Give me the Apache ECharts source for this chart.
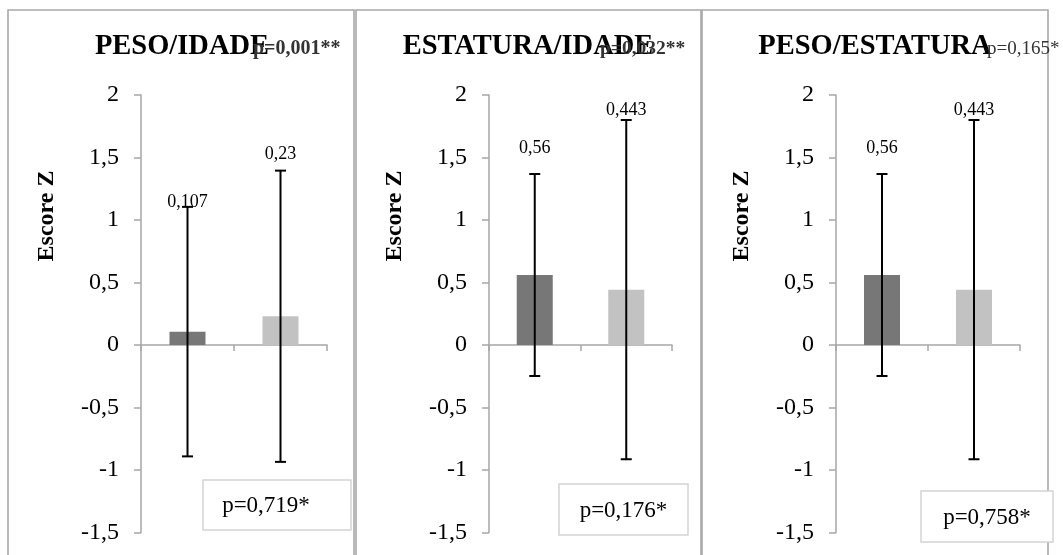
<!DOCTYPE html>
<html>
<head>
<meta charset="utf-8">
<script src="https://cdn.jsdelivr.net/npm/echarts/dist/echarts.min.js"></script>
<style>
html,body{margin:0;padding:0;background:#fff;}
#chart{width:1063px;height:555px;}
</style>
</head>
<body>
<div id="chart"></div>
<script>
// ---- data ----
const categories = ['Grupo 1', 'Grupo 2'];
const panelTitles = ['PESO/IDADE', 'ESTATURA/IDADE', 'PESO/ESTATURA'];
const panelTopP = ['p=0,001**', 'p=0,032**', 'p=0,165*'];
const panelBoxP = ['p=0,719*', 'p=0,176*', 'p=0,758*'];
const meansPesoIdade = [0.107, 0.23];
const meansEstaturaIdade = [0.56, 0.443];
const meansPesoEstatura = [0.56, 0.443];
const sdPesoIdade = [0.998, 1.165];
const sdEstaturaIdade = [0.808, 1.357];
const sdPesoEstatura = [0.808, 1.357];
const yTickMin = -1.5, yTickMax = 2, yTickStep = 0.5;
const yAxisName = 'Escore Z';

// ---- layout / style (not data) ----
const means = [meansPesoIdade, meansEstaturaIdade, meansPesoEstatura];
const sds = [sdPesoIdade, sdEstaturaIdade, sdPesoEstatura];
const gridLeft = [141, 489, 836];
const gridWidth = [186, 183, 184];
const gridTop = 95, gridHeight = 437.5;
const panelX = [8, 356, 702];
const panelRight = [354, 701, 1048];
const titleCx = [182, 528, 875];
const topPX = [253, 600, 987];
const topPSize = [20, 19.5, 19];
const topPWeight = ['bold', 'bold', 'normal'];
const boxRects = [[203, 480, 148, 50], [559, 484, 129, 51], [921, 491, 132, 51]];
const boxTextCx = [266, 623.5, 987];
const labelLift = [[5, 16], [26, 10], [26, 10]];
const barColors = ['#777777', '#c2c2c2'];
const axisColor = '#a6a6a6';
const serif = '"Liberation Serif", "Times New Roman", serif';

const fmt = v => String(v).replace('.', ',');

const grids = [], xAxes = [], yAxes = [], series = [], graphics = [];

for (let p = 0; p < 3; p++) {
  graphics.push({
    type: 'rect', z: 0, silent: true,
    shape: { x: panelX[p], y: 10, width: panelRight[p] - panelX[p], height: 600 },
    style: { fill: 'none', stroke: '#a8a8a8', lineWidth: 1.6 }
  });
  grids.push({ left: gridLeft[p], top: gridTop, width: gridWidth[p], height: gridHeight, containLabel: false });
  xAxes.push({
    type: 'category', gridIndex: p, data: categories,
    axisLine: { onZero: true, lineStyle: { color: axisColor, width: 1.5 } },
    axisTick: { show: true, length: 6, lineStyle: { color: axisColor, width: 1.5 } },
    axisLabel: { show: false }, splitLine: { show: false }
  });
  yAxes.push({
    type: 'value', gridIndex: p, min: yTickMin, max: yTickMax, interval: yTickStep,
    axisLine: { show: true, lineStyle: { color: axisColor, width: 1.5 } },
    axisTick: { show: true, length: 7, lineStyle: { color: axisColor, width: 1.5 } },
    axisLabel: { margin: 22, formatter: fmt, fontFamily: serif, fontSize: 24, color: '#000' },
    splitLine: { show: false }
  });
  series.push({
    type: 'bar', xAxisIndex: p, yAxisIndex: p, barWidth: 36,
    data: means[p].map((v, i) => ({ value: v, itemStyle: { color: barColors[i] } })),
    animation: false
  });
  const errData = means[p].map((m, i) => [i, m - sds[p][i], m + sds[p][i], m]);
  const lifts = labelLift[p];
  series.push({
    type: 'custom', xAxisIndex: p, yAxisIndex: p, z: 5, animation: false,
    data: errData,
    renderItem: function (params, api) {
      const i = api.value(0);
      const lo = api.coord([i, api.value(1)]);
      const hi = api.coord([i, api.value(2)]);
      const x = hi[0];
      const cap = 5.5;
      const st = { stroke: '#000', lineWidth: 2 };
      return {
        type: 'group',
        children: [
          { type: 'line', shape: { x1: x, y1: hi[1], x2: x, y2: lo[1] }, style: st },
          { type: 'line', shape: { x1: x - cap, y1: hi[1], x2: x + cap, y2: hi[1] }, style: st },
          { type: 'line', shape: { x1: x - cap, y1: lo[1], x2: x + cap, y2: lo[1] }, style: st },
          { type: 'text', x: x, y: hi[1] - lifts[i],
            style: { text: fmt(api.value(3)), fontFamily: serif, fontSize: 18, fill: '#000',
                     align: 'center', verticalAlign: 'middle' } }
        ]
      };
    }
  });
  graphics.push({
    type: 'text', z: 10, x: titleCx[p], y: 47,
    style: { text: panelTitles[p], fontFamily: serif, fontSize: 28.5, fontWeight: 'bold', fill: '#000',
             align: 'center', verticalAlign: 'middle' }
  });
  graphics.push({
    type: 'text', z: 11, x: topPX[p], y: 49,
    style: { text: panelTopP[p], fontFamily: serif, fontSize: topPSize[p], fontWeight: topPWeight[p], fill: '#333',
             align: 'left', verticalAlign: 'middle' }
  });
  graphics.push({
    type: 'text', z: 10, x: gridLeft[p] - 94, y: 216, rotation: Math.PI / 2,
    style: { text: yAxisName, fontFamily: serif, fontSize: 24, fontWeight: 'bold', fill: '#000',
             align: 'center', verticalAlign: 'middle' }
  });
  const r = boxRects[p];
  graphics.push({
    type: 'rect', z: 20,
    shape: { x: r[0], y: r[1], width: r[2], height: r[3] },
    style: { fill: '#fff', stroke: '#d4d4d4', lineWidth: 1.5 }
  });
  graphics.push({
    type: 'text', z: 21, x: boxTextCx[p], y: r[1] + r[3] / 2 + 1,
    style: { text: panelBoxP[p], fontFamily: serif, fontSize: 23, fill: '#000',
             align: 'center', verticalAlign: 'middle' }
  });
}

const chart = echarts.init(document.getElementById('chart'), null, { renderer: 'canvas' });
chart.setOption({
  animation: false,
  backgroundColor: '#fff',
  grid: grids, xAxis: xAxes, yAxis: yAxes, series: series,
  graphic: graphics
});
</script>
</body>
</html>
